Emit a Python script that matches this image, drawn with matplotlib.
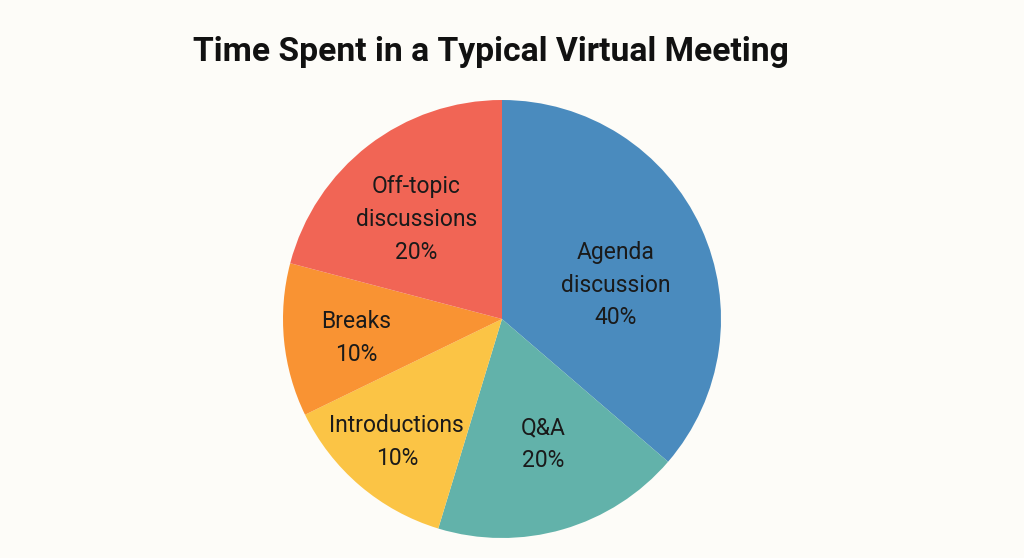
import matplotlib.pyplot as plt
import numpy as np

# categories and the share of the circle each wedge takes in the picture
categories = ["Agenda\ndiscussion", "Q&A", "Introductions", "Breaks", "Off-topic\ndiscussions"]
shares = [36.3, 18.4, 13.1, 11.3, 20.9]
pct_labels = ["40%", "20%", "10%", "10%", "20%"]
colors = ["#4a8bbe", "#62b2aa", "#fbc445", "#f99333", "#f16555"]

# where each label sits (fraction of radius, angle tweak in degrees)
label_r = [0.54, 0.60, 0.74, 0.67, 0.60]
label_dang = [-8, 2, 0, 2, 3]

bg = "#fdfcf8"

fig = plt.figure(figsize=(10.24, 5.58), dpi=100)
fig.patch.set_facecolor(bg)

# pie centre at ~(502, 319) px, radius ~219 px
ax = fig.add_axes([(502 - 219) / 1024, (558 - 319 - 219) / 558, 438 / 1024, 438 / 558])
ax.set_facecolor(bg)

wedges, _ = ax.pie(shares, colors=colors, startangle=90, counterclock=False,
                   radius=1, wedgeprops=dict(linewidth=0))
ax.set_xlim(-1, 1)
ax.set_ylim(-1, 1)
ax.set_aspect("equal")
ax.axis("off")

for w, cat, pct, r, da in zip(wedges, categories, pct_labels, label_r, label_dang):
    mid = np.deg2rad((w.theta1 + w.theta2) / 2 + da)
    ax.text(r * np.cos(mid), r * np.sin(mid), cat + "\n" + pct,
            ha="center", va="center", fontsize=16.5, family="Roboto",
            color="#1a1a1a", linespacing=1.55)

fig.text(491 / 1024, 1 - 52 / 558, "Time Spent in a Typical Virtual Meeting",
         ha="center", va="center", fontsize=24.2, fontweight="bold",
         family="Roboto", color="#111111")

fig.savefig("out.png", dpi=100, facecolor=bg)
